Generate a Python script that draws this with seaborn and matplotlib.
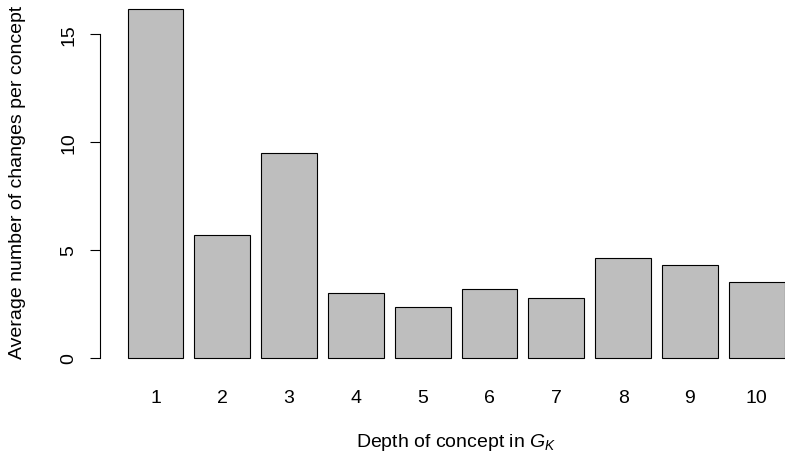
import matplotlib
matplotlib.use("Agg")
import matplotlib.pyplot as plt
import seaborn as sns
import pandas as pd

# values
depths = ["1", "2", "3", "4", "5", "6", "7", "8", "9", "10"]
avg_changes = [16.16, 5.69, 9.48, 3.02, 2.35, 3.18, 2.78, 4.62, 4.32, 3.50]
y_ticks = [0, 5, 10, 15]

df = pd.DataFrame({"depth": depths, "changes": avg_changes})

sns.set_theme(style="white")
plt.rcParams["font.family"] = ["Liberation Sans", "DejaVu Sans"]
plt.rcParams["mathtext.fontset"] = "custom"
plt.rcParams["mathtext.rm"] = "Liberation Sans"
plt.rcParams["mathtext.it"] = "Liberation Sans:italic"
plt.rcParams["text.color"] = "black"
plt.rcParams["axes.labelcolor"] = "black"

W, H = 785, 464
fig = plt.figure(figsize=(W / 100, H / 100), dpi=100)
# plot region in pixels (R style base-graphics layout)
left_px, top_px, bottom_px = 102, 0, 373
ax = fig.add_axes([left_px / W, (H - bottom_px) / H, (W - left_px) / W, (bottom_px - top_px) / H])

sns.barplot(data=df, x="depth", y="changes", order=depths, color="#bebebe",
            saturation=1, edgecolor="black", linewidth=0.8, width=0.833, ax=ax)

# scale: bar centers 66.8 px apart, first at 155.5 px; y 21.6 px/unit, 0 at 359 px
ax.set_xlim((left_px - 155.5) / 66.8, (W - 155.5) / 66.8)
ax.set_ylim(-(bottom_px - 359) / 21.6, (359 - top_px) / 21.6)

for s in ["top", "right", "bottom"]:
    ax.spines[s].set_visible(False)
ax.spines["left"].set_bounds(0, 15)
ax.spines["left"].set_position(("outward", 1.5))
ax.spines["left"].set_color("black")
ax.spines["left"].set_linewidth(0.8)

ax.set_yticks(y_ticks)
ax.set_yticklabels([str(t) for t in y_ticks], rotation=90, va="center")
ax.tick_params(axis="y", left=True, length=7.2, width=0.8, direction="out",
               pad=9, labelsize=14, colors="black")
ax.tick_params(axis="x", bottom=False, length=0, pad=12, labelsize=14, colors="black")

ax.set_xlabel("Depth of concept in $G_K$", fontsize=14, va="center")
ax.set_ylabel("Average number of changes per concept", fontsize=14, va="center")
ax.xaxis.set_label_coords((456 - left_px) / (W - left_px), (bottom_px - 443) / (bottom_px - top_px))
ax.yaxis.set_label_coords((18 - left_px) / (W - left_px), (bottom_px - 182.5) / (bottom_px - top_px))

fig.savefig("out.png", dpi=100)
